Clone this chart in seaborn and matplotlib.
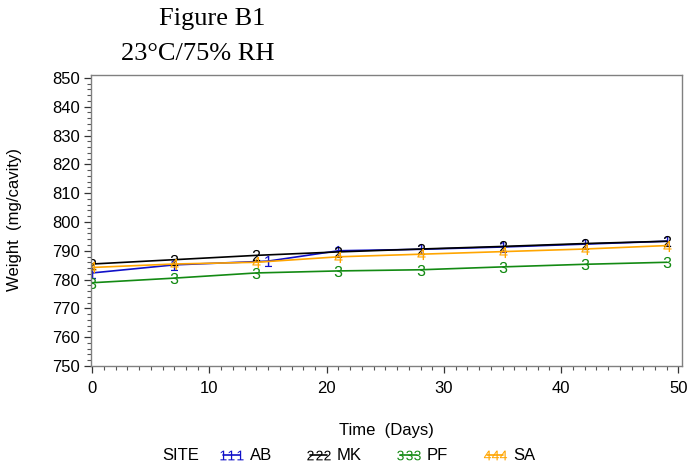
import numpy as np
import pandas as pd
import matplotlib
matplotlib.use("Agg")
import matplotlib.pyplot as plt
import seaborn as sns
from matplotlib.ticker import MultipleLocator
from matplotlib.lines import Line2D

# ---- data ----
sites = ["AB", "MK", "PF", "SA"]
days_ab = [0, 7, 15, 21, 28, 35, 42, 49]
days = [0, 7, 14, 21, 28, 35, 42, 49]
weight_ab = [782.3, 785.1, 786.4, 790.0, 790.5, 791.3, 792.3, 793.3]
weight_mk = [785.4, 786.9, 788.4, 789.6, 790.6, 791.5, 792.5, 793.3]
weight_pf = [778.9, 780.5, 782.3, 783.0, 783.4, 784.4, 785.3, 786.0]
weight_sa = [784.2, 785.4, 786.0, 787.9, 788.8, 789.7, 790.6, 791.8]
colors = {"AB": "#1010c8", "MK": "#000000", "PF": "#138a13", "SA": "#ffa500"}
symbols = {"AB": "$1$", "MK": "$2$", "PF": "$3$", "SA": "$4$"}

df = pd.concat([
    pd.DataFrame({"Day": days_ab, "Weight": weight_ab, "SITE": "AB"}),
    pd.DataFrame({"Day": days, "Weight": weight_mk, "SITE": "MK"}),
    pd.DataFrame({"Day": days, "Weight": weight_pf, "SITE": "PF"}),
    pd.DataFrame({"Day": days, "Weight": weight_sa, "SITE": "SA"}),
], ignore_index=True)

sns.set_style("ticks")
plt.rcParams["font.family"] = ["Liberation Sans", "DejaVu Sans"]
plt.rcParams["mathtext.fontset"] = "custom"
plt.rcParams["mathtext.rm"] = "Liberation Sans"
plt.rcParams["mathtext.it"] = "Liberation Sans"
plt.rcParams["text.color"] = "black"
plt.rcParams["axes.labelcolor"] = "black"
plt.rcParams["xtick.labelcolor"] = "black"
plt.rcParams["ytick.labelcolor"] = "black"

fig = plt.figure(figsize=(6.9, 4.72), dpi=100)
ax = fig.add_axes([91 / 690, 1 - 366 / 472, (682 - 91) / 690, (366 - 75) / 472])

sns.lineplot(data=df, x="Day", y="Weight", hue="SITE", style="SITE",
             hue_order=sites, style_order=sites, palette=colors,
             markers=symbols, dashes=False, markersize=8, linewidth=1.2,
             markeredgewidth=0, estimator=None, sort=True, legend=False, ax=ax)

ax.set_xlim(-0.1, 50.3)
ax.set_ylim(750, 851)
ax.xaxis.set_major_locator(MultipleLocator(10))
ax.xaxis.set_minor_locator(MultipleLocator(1))
ax.yaxis.set_major_locator(MultipleLocator(10))
ax.yaxis.set_minor_locator(MultipleLocator(2))
ax.tick_params(which="major", direction="out", length=5, width=0.9, color="#333333",
               labelsize=12, pad=3, labelcolor="black")
ax.tick_params(axis="x", which="major", pad=6)
ax.tick_params(which="minor", direction="out", length=3, width=0.8, color="#555555")
for s in ax.spines.values():
    s.set_visible(True)
    s.set_color("#808080")
    s.set_linewidth(1.0)

ax.set_xlabel("Time  (Days)", fontsize=12, color="black")
ax.set_ylabel("Weight  (mg/cavity)", fontsize=12, color="black")
ax.xaxis.set_label_coords(0.5, -0.195)
ax.yaxis.set_label_coords(-0.117, 0.503)

# titles
fig.text(212 / 690, 1 - 19 / 472, "Figure B1", ha="center", va="center",
         fontsize=19, family="Liberation Serif", color="black")
fig.text(198 / 690, 1 - 54 / 472, "23°C/75% RH", ha="center", va="center",
         fontsize=19, family="Liberation Serif", color="black")

# legend
handles = [Line2D([], [], color=colors[s], marker=symbols[s], markersize=7,
                  markeredgewidth=0, linewidth=1.2) for s in sites]
fig.text(162 / 690, 1 - 456 / 472, "SITE", ha="left", va="center", fontsize=12,
         color="black")
fig.legend(handles, sites, loc="center left", bbox_to_anchor=(218 / 690, 1 - 456 / 472),
           ncol=4, frameon=False, fontsize=12, numpoints=3, handlelength=1.6,
           handletextpad=0.3, columnspacing=2.0, borderpad=0, borderaxespad=0)

fig.savefig("out.png", dpi=100)
